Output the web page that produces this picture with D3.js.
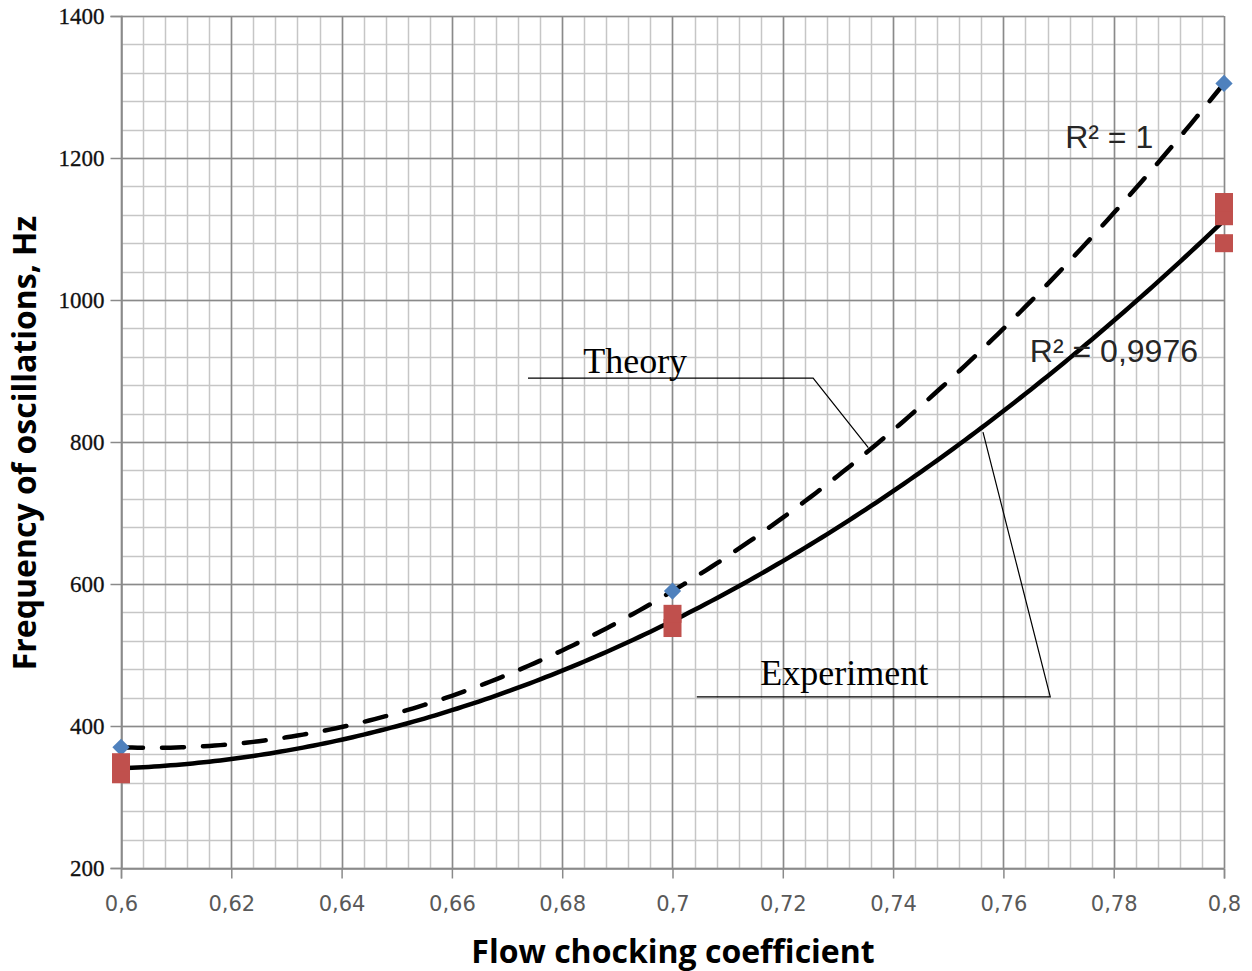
<!DOCTYPE html>
<html>
<head>
<meta charset="utf-8">
<script src="https://cdn.jsdelivr.net/npm/d3@7"></script>
<style>
  body { margin: 0; background: #fff; }
  svg { display: block; }
</style>
</head>
<body>
<svg id="chart" width="1252" height="971"></svg>
<script>
// chart values
var theoryX = [0.6, 0.7, 0.8],
  theoryY = [370, 590, 1305],
  experimentX = [0.6, 0.6, 0.7, 0.7, 0.8, 0.8, 0.8],
  experimentY = [332, 349, 538, 558, 1080, 1118, 1138],
  xTicks = [0.6, 0.62, 0.64, 0.66, 0.68, 0.7, 0.72, 0.74, 0.76, 0.78, 0.8],
  yTicks = [200, 400, 600, 800, 1000, 1200, 1400],
  // annotation anchors, in data units
  theoryLabel = { text: "Theory", x: 0.6838, y: 897 },
  theoryLeader = [[0.6738, 890], [0.7255, 890], [0.7355, 792]],
  experimentLabel = { text: "Experiment", x: 0.7159, y: 458 },
  experimentLeader = [[0.7044, 441], [0.7685, 441], [0.7563, 814]],
  r2Labels = [
    { text: "R\u00b2 = 1", x: 0.7712, y: 1214 },
    { text: "R\u00b2 = 0,9976", x: 0.7648, y: 913 }
  ];

(function () {
  "use strict";

  var svg = d3.select("#chart"),
    plotLeft = 121, plotRight = 1224, plotTop = 16, plotBottom = 868,
    x = d3.scaleLinear().domain([0.6, 0.8]).range([plotLeft, plotRight]),
    y = d3.scaleLinear().domain([200, 1400]).range([plotBottom, plotTop]),
    comma = function (v) { return String(+v.toFixed(3)).replace(".", ","); },
    crisp = function (v) { return Math.round(v) + 0.5; };

  // least squares polynomial of degree 2 (Excel style trendline)
  function polyfit(xs, ys) {
    var m = d3.mean(xs), n = 3, A = [], b = [], c = [], i, j, k, f, s;
    for (i = 0; i < n; i++) {
      A.push([0, 0, 0]);
      b.push(0);
    }
    xs.forEach(function (xv, p) {
      var t = xv - m, r, q;
      for (r = 0; r < n; r++) {
        for (q = 0; q < n; q++) {
          A[r][q] += Math.pow(t, r + q);
        }
        b[r] += ys[p] * Math.pow(t, r);
      }
    });
    // gaussian elimination
    for (i = 0; i < n; i++) {
      for (k = i + 1; k < n; k++) {
        f = A[k][i] / A[i][i];
        for (j = i; j < n; j++) { A[k][j] -= f * A[i][j]; }
        b[k] -= f * b[i];
      }
    }
    for (i = n - 1; i >= 0; i--) {
      s = b[i];
      for (j = i + 1; j < n; j++) { s -= A[i][j] * c[j]; }
      c[i] = s / A[i][i];
    }
    return function (xv) {
      var t = xv - m;
      return c[0] + c[1] * t + c[2] * t * t;
    };
  }

  // grid
  var minorX = d3.range(0, 51).map(function (i) { return 0.6 + i * 0.004; }),
    minorY = d3.range(0, 31).map(function (i) { return 200 + i * 40; }),
    grid = svg.append("g");

  function vLines(data, colour) {
    grid.selectAll(null).data(data).enter().append("line")
      .attr("x1", function (d) { return crisp(x(d)); })
      .attr("x2", function (d) { return crisp(x(d)); })
      .attr("y1", plotTop).attr("y2", plotBottom)
      .attr("stroke", colour).attr("stroke-width", 1.5);
  }
  function hLines(data, colour) {
    grid.selectAll(null).data(data).enter().append("line")
      .attr("y1", function (d) { return crisp(y(d)); })
      .attr("y2", function (d) { return crisp(y(d)); })
      .attr("x1", plotLeft).attr("x2", plotRight)
      .attr("stroke", colour).attr("stroke-width", 1.5);
  }
  vLines(minorX, "#c6c6c6");
  hLines(minorY, "#c6c6c6");
  vLines(xTicks, "#8a8a8a");
  hLines(yTicks, "#8a8a8a");

  // axes
  var xAxis = svg.append("g")
    .attr("transform", "translate(0," + crisp(y(200)) + ")")
    .call(d3.axisBottom(x).tickValues(xTicks).tickFormat(comma).tickSize(10).tickPadding(18));
  xAxis.select(".domain").attr("stroke", "#8a8a8a").attr("stroke-width", 1.5);
  xAxis.selectAll(".tick line").attr("stroke", "#8a8a8a").attr("stroke-width", 1.5);
  xAxis.selectAll("text")
    .attr("font-family", "DejaVu Sans").attr("font-size", 21).attr("fill", "#595959");

  var yAxis = svg.append("g")
    .attr("transform", "translate(" + crisp(x(0.6)) + ",0)")
    .call(d3.axisLeft(y).tickValues(yTicks).tickFormat(d3.format("d")).tickSize(11).tickPadding(6));
  yAxis.select(".domain").attr("stroke", "#8a8a8a").attr("stroke-width", 1.5);
  yAxis.selectAll(".tick line").attr("stroke", "#8a8a8a").attr("stroke-width", 1.5);
  yAxis.selectAll("text")
    .attr("font-family", "Liberation Serif").attr("font-size", 23).attr("fill", "#111")
    .attr("stroke", "#111").attr("stroke-width", 0.3);

  // trendlines
  var theoryFit = polyfit(theoryX, theoryY),
    experimentFit = polyfit(experimentX, experimentY),
    xs = d3.range(0, 201).map(function (i) { return 0.6 + i * 0.001; });

  svg.append("path")
    .datum(xs)
    .attr("fill", "none").attr("stroke", "#000").attr("stroke-width", 4.5)
    .attr("d", d3.line().x(function (d) { return x(d); })
      .y(function (d) { return y(experimentFit(d)); }));

  svg.append("path")
    .datum(xs)
    .attr("fill", "none").attr("stroke", "#000").attr("stroke-width", 4.5)
    .attr("stroke-dasharray", "22,19").attr("stroke-linecap", "round")
    .attr("d", d3.line().x(function (d) { return x(d); })
      .y(function (d) { return y(theoryFit(d)); }));

  // markers
  svg.selectAll(".theory").data(theoryX).enter().append("path")
    .attr("transform", function (d, i) {
      return "translate(" + x(d) + "," + y(theoryY[i]) + ")";
    })
    .attr("d", d3.symbol().type(d3.symbolDiamond2).size(190))
    .attr("fill", "#4f81bd");

  svg.selectAll(".experiment").data(experimentX).enter().append("rect")
    .attr("x", function (d) { return x(d) - 9; })
    .attr("y", function (d, i) { return y(experimentY[i]) - 9; })
    .attr("width", 18).attr("height", 18)
    .attr("fill", "#c0504d");

  // annotations
  var leader = d3.line().x(function (d) { return x(d[0]); }).y(function (d) { return y(d[1]); });
  [theoryLeader, experimentLeader].forEach(function (pts) {
    svg.append("path").attr("d", leader(pts))
      .attr("fill", "none").attr("stroke", "#000").attr("stroke-width", 1.2);
  });
  [theoryLabel, experimentLabel].forEach(function (l) {
    svg.append("text").attr("x", x(l.x)).attr("y", y(l.y))
      .attr("font-family", "Liberation Serif").attr("font-size", 36).attr("fill", "#000")
      .text(l.text);
  });
  svg.selectAll(".r2").data(r2Labels).enter().append("text")
    .attr("x", function (d) { return x(d.x); })
    .attr("y", function (d) { return y(d.y); })
    .attr("font-family", "Liberation Sans").attr("font-size", 32).attr("fill", "#262626")
    .text(function (d) { return d.text; });

  // axis titles
  svg.append("text")
    .attr("transform", "translate(36,443) rotate(-90)")
    .attr("text-anchor", "middle")
    .attr("font-family", "Open Sans").attr("font-weight", "bold").attr("font-size", 32)
    .attr("fill", "#000")
    .text("Frequency of oscillations, Hz");
  svg.append("text")
    .attr("x", 673).attr("y", 963)
    .attr("text-anchor", "middle")
    .attr("font-family", "Open Sans").attr("font-weight", "bold").attr("font-size", 32)
    .attr("fill", "#000")
    .text("Flow chocking coefficient");
}());
</script>
</body>
</html>
